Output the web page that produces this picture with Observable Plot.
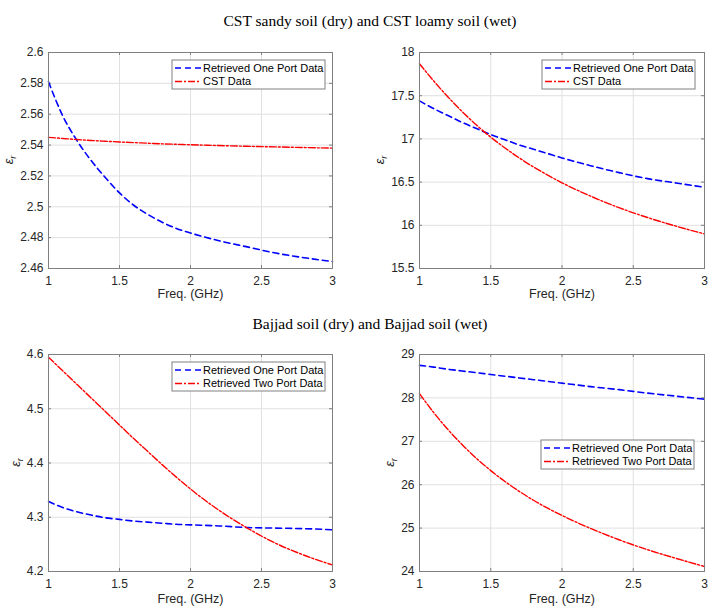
<!DOCTYPE html>
<html><head><meta charset="utf-8">
<script src="https://cdn.jsdelivr.net/npm/d3@7"></script>
<script src="https://cdn.jsdelivr.net/npm/@observablehq/plot@0.6"></script>
<style>
body{margin:0;background:#fff;}
#root{position:relative;width:722px;height:616px;background:#fff;overflow:hidden;}
.panel{position:absolute;}
.panel svg{overflow:visible;}
#titles{position:absolute;left:0;top:0;pointer-events:none;}
</style></head><body><div id="root"></div>
<script>
// Shared frequency axis (GHz)
const freq = [1.0,1.1,1.2,1.3,1.4,1.5,1.6,1.7,1.8,1.9,2.0,2.2,2.4,2.6,2.8,3.0];
const xTicks = [1,1.5,2,2.5,3];
const xLabel = "Freq. (GHz)";
const titles = ["CST sandy soil (dry) and CST loamy soil (wet)", "Bajjad soil (dry) and Bajjad soil (wet)"];
const nameOne = "Retrieved One Port Data";
const nameCST = "CST Data";
const nameTwo = "Retrieved Two Port Data";

// Panel 1: CST sandy soil (dry)
const sandyOnePort = [2.581,2.559,2.543,2.530,2.519,2.509,2.501,2.495,2.490,2.486,2.483,2.478,2.474,2.470,2.467,2.4645];
const sandyCST     = [2.545,2.5443,2.5436,2.543,2.5425,2.542,2.5416,2.5412,2.5408,2.5405,2.5402,2.5397,2.5392,2.5388,2.5384,2.538];
const sandyTicks   = [2.46,2.48,2.5,2.52,2.54,2.56,2.58,2.6];

// Panel 2: CST loamy soil (wet)
const loamyOnePort = [17.44,17.35,17.27,17.19,17.12,17.05,16.99,16.93,16.88,16.83,16.78,16.69,16.61,16.54,16.49,16.44];
const loamyCST     = [17.87,17.67,17.485,17.315,17.16,17.02,16.895,16.78,16.675,16.58,16.492,16.338,16.204,16.09,15.99,15.90];
const loamyTicks   = [15.5,16,16.5,17,17.5,18];

// Panel 3: Bajjad soil (dry)
const bajDryOnePort = [4.329,4.318,4.310,4.304,4.299,4.296,4.293,4.291,4.289,4.287,4.286,4.284,4.281,4.280,4.279,4.277];
const bajDryTwoPort = [4.595,4.570,4.545,4.520,4.495,4.470,4.445,4.421,4.397,4.374,4.352,4.313,4.280,4.252,4.230,4.212];
const bajDryTicks   = [4.2,4.3,4.4,4.5,4.6];

// Panel 4: Bajjad soil (wet)
const bajWetOnePort = [28.75,28.71,28.66,28.62,28.58,28.54,28.50,28.46,28.42,28.38,28.34,28.26,28.19,28.11,28.04,27.97];
const bajWetTwoPort = [28.10,27.66,27.27,26.92,26.605,26.325,26.073,25.846,25.642,25.458,25.292,24.992,24.731,24.502,24.303,24.115];
const bajWetTicks   = [24,25,26,27,28,29];

const BLUE = {color:"#0000ff", width:1.6, dash:"6,4"};
const RED  = {color:"#ff0000", width:1.4, dash:"7,2,2,2"};
const AX = "#808080", GRID = "#e0e0e0", TXT = "#262626";
const SANS = "'Liberation Sans', Arial, sans-serif";

function makePanel(cfg) {
  const {left, top, height, mt, mb, ml, mr, yTicks, series, legend, ylabOff, xlabDy} = cfg;
  const W = 361;
  const fw = W - ml - mr, fh = height - mt - mb;
  const marks = [
    Plot.gridX(xTicks, {stroke: GRID, strokeOpacity: 1}),
    Plot.gridY(yTicks, {stroke: GRID, strokeOpacity: 1}),
    Plot.axisX(xTicks, {tickSize: 0, tickPadding: 8, tickFormat: d => String(d), fontSize: 12, color: TXT, label: null}),
    Plot.axisY(yTicks, {tickSize: 0, tickPadding: 5, tickFormat: d => String(d), fontSize: 12, color: TXT, label: null}),
    Plot.tickX(xTicks, {x: d => d, insetTop: fh - 3, stroke: AX}),
    Plot.tickX(xTicks, {x: d => d, insetBottom: fh - 3, stroke: AX}),
    Plot.tickY(yTicks, {y: d => d, insetRight: fw - 3, stroke: AX}),
    Plot.tickY(yTicks, {y: d => d, insetLeft: fw - 3, stroke: AX}),
    ...series.map(s => Plot.line(freq.map((f, i) => ({f, v: s.values[i]})),
      {x: "f", y: "v", stroke: s.style.color, strokeWidth: s.style.width, strokeDasharray: s.style.dash, curve: "monotone-x"})),
    Plot.frame({stroke: AX}),
    Plot.text([xLabel], {frameAnchor: "bottom", text: d => d, dy: xlabDy, fontSize: 12.5, fill: TXT})
  ];
  const svg = Plot.plot({
    width: W, height, marginTop: mt, marginBottom: mb, marginLeft: ml, marginRight: mr,
    style: {fontFamily: SANS, background: "transparent", color: TXT},
    x: {domain: [1, 3], label: null},
    y: {domain: [yTicks[0], yTicks[yTicks.length - 1]], label: null},
    marks
  });
  const s = d3.select(svg);
  // y label epsilon_r
  const yl = s.append("text")
    .attr("transform", `translate(${ml - ylabOff},${mt + fh / 2}) rotate(-90)`)
    .attr("text-anchor", "middle").attr("fill", TXT).attr("font-family", SANS);
  yl.append("tspan").text("ε").attr("font-style", "italic").attr("font-size", 13);
  yl.append("tspan").text("r").attr("font-style", "italic").attr("font-size", 9).attr("dy", 3);
  // legend
  const bw = 153, bh = 29;
  const bx = ml + fw - legend.right - bw, by = mt + legend.top;
  const g = s.append("g");
  g.append("rect").attr("x", bx).attr("y", by).attr("width", bw).attr("height", bh)
    .attr("fill", "#fff").attr("stroke", AX).attr("stroke-width", 1);
  series.forEach((sr, i) => {
    const cy = by + 8 + i * 13.5;
    g.append("line").attr("x1", bx + 3).attr("x2", bx + 29).attr("y1", cy).attr("y2", cy)
      .attr("stroke", sr.style.color).attr("stroke-width", sr.style.width).attr("stroke-dasharray", sr.style.dash);
    g.append("text").attr("x", bx + 31).attr("y", cy).attr("dy", "0.36em").attr("text-anchor", "start")
      .attr("font-size", 11).attr("font-family", SANS).attr("fill", "#000").text(sr.name);
  });
  const div = document.createElement("div");
  div.className = "panel";
  div.style.left = left + "px"; div.style.top = top + "px";
  div.appendChild(svg);
  document.getElementById("root").appendChild(div);
}

makePanel({left: 0, top: 0, height: 310, mt: 52, mb: 42, ml: 48, mr: 29, yTicks: sandyTicks, ylabOff: 35, xlabDy: 29,
  legend: {right: 7, top: 8},
  series: [{name: nameOne, values: sandyOnePort, style: BLUE}, {name: nameCST, values: sandyCST, style: RED}]});
makePanel({left: 361, top: 0, height: 310, mt: 52, mb: 42, ml: 58, mr: 18, yTicks: loamyTicks, ylabOff: 35, xlabDy: 29,
  legend: {right: 9, top: 8},
  series: [{name: nameOne, values: loamyOnePort, style: BLUE}, {name: nameCST, values: loamyCST, style: RED}]});
makePanel({left: 0, top: 300, height: 316, mt: 54, mb: 45, ml: 48, mr: 29, yTicks: bajDryTicks, ylabOff: 28, xlabDy: 31,
  legend: {right: 7, top: 8},
  series: [{name: nameOne, values: bajDryOnePort, style: BLUE}, {name: nameTwo, values: bajDryTwoPort, style: RED}]});
makePanel({left: 361, top: 300, height: 316, mt: 54, mb: 45, ml: 58, mr: 18, yTicks: bajWetTicks, ylabOff: 25, xlabDy: 31,
  legend: {right: 10, top: 86},
  series: [{name: nameOne, values: bajWetOnePort, style: BLUE}, {name: nameTwo, values: bajWetTwoPort, style: RED}]});

// Section titles
const tsvg = d3.select("#root").append("svg").attr("id", "titles").attr("width", 722).attr("height", 616);
[[titles[0], 26], [titles[1], 329]].forEach(([t, y]) => {
  tsvg.append("text").attr("x", 370).attr("y", y).attr("text-anchor", "middle")
    .attr("font-family", "'Liberation Serif', 'Times New Roman', serif").attr("font-size", 15.5)
    .attr("fill", "#000").text(t);
});
</script></body></html>
